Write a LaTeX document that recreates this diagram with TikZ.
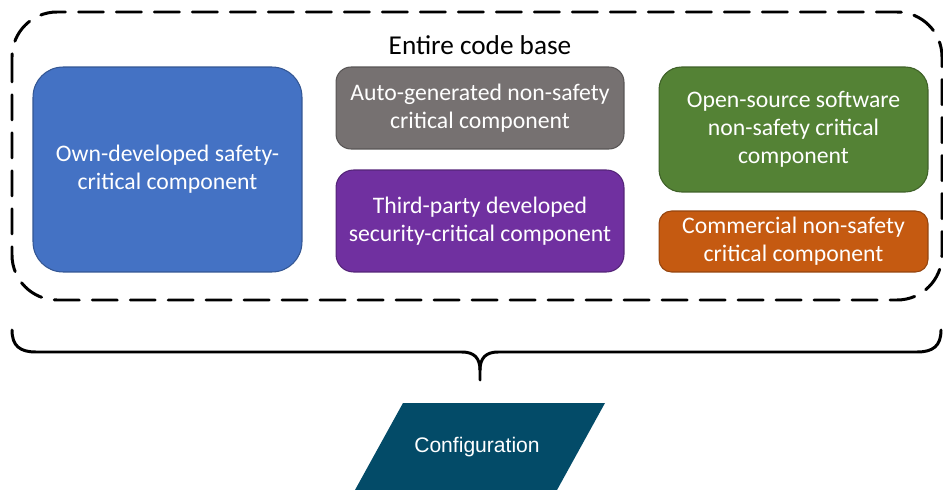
\documentclass[tikz,border=0pt]{standalone}
\usepackage{fontspec}
\setmainfont{Carlito}
\newfontfamily\arialfont{Liberation Sans}
\definecolor{ownblue}{RGB}{68,114,196}
\definecolor{autogray}{RGB}{118,113,113}
\definecolor{thirdpurple}{RGB}{112,48,160}
\definecolor{opengreen}{RGB}{84,130,53}
\definecolor{commorange}{RGB}{197,90,17}
\definecolor{configteal}{RGB}{3,75,104}
\begin{document}
\begin{tikzpicture}[x=0.02cm, y=-0.02cm, line join=round, line cap=round,
    comp/.style={draw=#1!75!black, fill=#1, text=white, align=center, line width=0.6pt,
      inner sep=0pt, font=\fontsize{13.5}{16}\selectfont}]
  \useasboundingbox (0,0) rectangle (943,490);
  \clip (0,0) rectangle (943,490);
  % code base frame
  \draw[line width=1.7pt, dash pattern=on 0.5cm off 0.26cm, rounded corners=0.9cm] (12,12) rectangle (942,300);
  \node (title) at (480,45) {\fontsize{15.5}{18}\selectfont Entire code base};
  % components
  \node[comp=ownblue, rounded corners=0.6cm, minimum width=5.38cm, minimum height=4.1cm] (own) at (167.5,169.5) {Own-developed safety-\\critical component};
  \node[comp=autogray, rounded corners=0.3cm, minimum width=5.76cm, minimum height=1.64cm] (auto) at (480,108) {Auto-generated non-safety\\critical component};
  \node[comp=thirdpurple, rounded corners=0.35cm, minimum width=5.76cm, minimum height=2.04cm] (third) at (480,221) {Third-party developed\\security-critical component};
  \node[comp=opengreen, rounded corners=0.45cm, minimum width=5.38cm, minimum height=2.5cm] (open) at (793.5,129.5) {Open-source software\\non-safety critical\\component};
  \node[comp=commorange, rounded corners=0.25cm, minimum width=5.38cm, minimum height=1.22cm] (comm) at (793.5,241.5) {Commercial non-safety\\critical component};
  % brace
  \coordinate (bl) at (12,330);
  \coordinate (br) at (941,330);
  \coordinate (tip) at (480,380);
  \draw[line width=1.7pt] (bl) .. controls (12,346) and (20,352) .. (36,352) -- (462,352)
    .. controls (474,352) and (480,358) .. (480,370) -- (tip);
  \draw[line width=1.7pt] (br) .. controls (941,346) and (933,352) .. (917,352) -- (498,352)
    .. controls (486,352) and (480,358) .. (480,370);
  % configuration
  \fill[configteal] (403,403) -- (605,403) -- (557,490) -- (355,490) -- cycle;
  \node[text=white, font=\arialfont\fontsize{12}{14}\selectfont] (config) at (477,447) {Configuration};
\end{tikzpicture}
\end{document}
